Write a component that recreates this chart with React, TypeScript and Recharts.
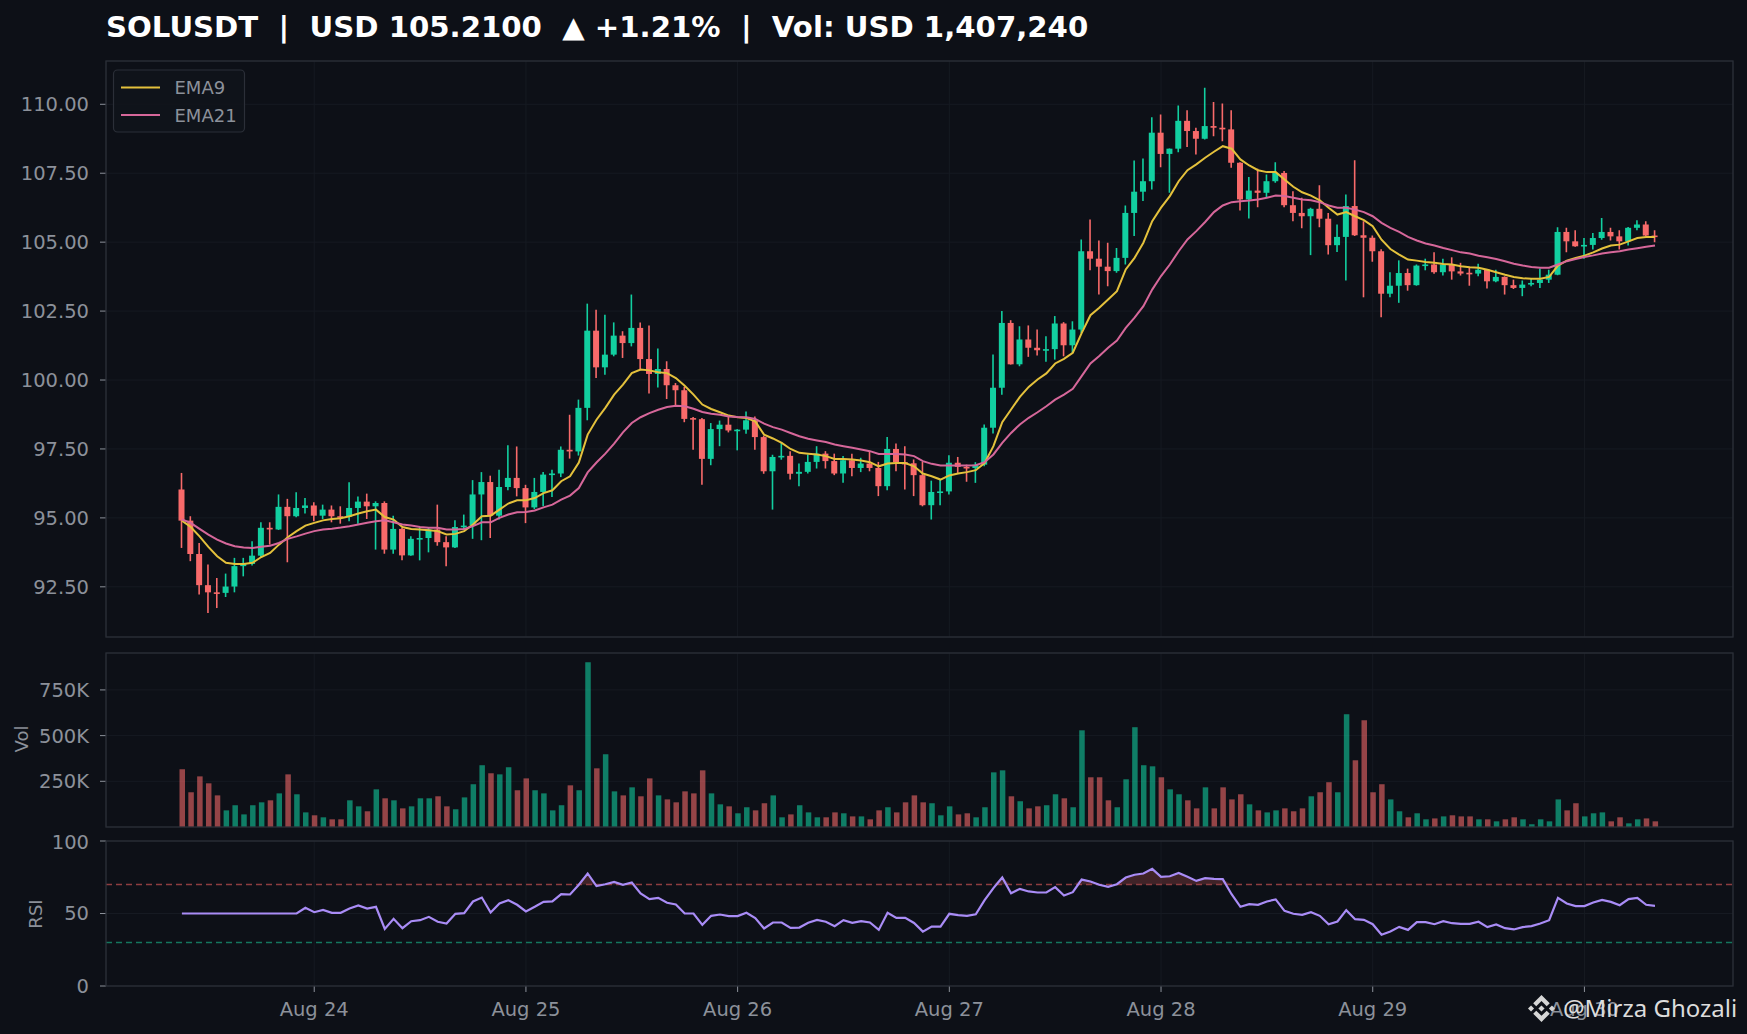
import React from 'react';
import {
  ComposedChart,
  Bar,
  Line,
  Area,
  XAxis,
  YAxis,
  CartesianGrid,
  ReferenceLine,
  Cell,
} from 'recharts';

// hourly candles, Aug 23 09:00 -> Aug 30 08:00
const opens = [
  96.03, 94.90, 93.69, 92.56, 92.30, 92.28, 92.51, 93.25, 93.33, 93.63, 94.64, 94.58,
  95.40, 95.06, 95.36, 95.45, 95.08, 95.30, 95.06, 95.04, 95.36, 95.59, 95.42, 95.54,
  93.85, 94.60, 93.64, 94.24, 94.27, 94.58, 94.12, 93.93, 94.67, 94.72, 95.85, 96.30,
  95.08, 96.12, 96.45, 96.08, 95.38, 95.94, 96.57, 96.61, 97.47, 97.41, 98.99, 101.79,
  100.46, 100.92, 101.61, 101.34, 101.89, 100.76, 100.22, 100.40, 99.81, 99.63, 98.62, 98.58,
  97.14, 98.22, 98.38, 98.17, 98.20, 98.54, 97.93, 96.69, 97.21, 97.25, 96.60, 96.67,
  97.03, 97.33, 97.06, 96.61, 97.09, 96.81, 96.97, 96.81, 96.15, 97.50, 97.02, 96.98,
  96.55, 95.46, 95.94, 95.96, 97.00, 96.85, 96.81, 96.93, 98.27, 99.72, 102.07, 100.57,
  101.47, 101.17, 101.08, 101.12, 102.05, 101.26, 101.83, 104.67, 104.40, 104.11, 103.95, 104.43,
  106.06, 106.83, 107.21, 108.97, 108.20, 108.39, 109.40, 109.03, 108.75, 109.21, 109.15, 109.09,
  107.88, 106.55, 106.87, 106.79, 107.21, 107.51, 106.34, 106.06, 105.94, 106.21, 105.85, 104.89,
  105.19, 106.31, 105.25, 105.16, 104.67, 103.13, 103.42, 103.88, 103.44, 104.15, 104.19, 103.91,
  104.19, 103.94, 103.89, 103.86, 104.00, 103.58, 103.74, 103.44, 103.34, 103.46, 103.52, 103.64,
  103.82, 105.37, 105.03, 104.85, 104.90, 105.15, 105.37, 105.21, 105.03, 105.52, 105.64, 105.24,
];

const highs = [
  96.63, 95.06, 94.09, 93.31, 92.82, 92.98, 93.55, 93.55, 94.15, 94.84, 94.84, 95.85,
  95.69, 95.93, 95.72, 95.57, 95.48, 95.45, 95.42, 96.29, 95.78, 95.88, 95.60, 95.60,
  95.08, 94.64, 94.33, 94.67, 94.67, 95.48, 94.33, 94.91, 95.12, 96.37, 96.66, 96.53,
  96.75, 97.63, 97.59, 96.20, 96.45, 96.66, 96.75, 97.59, 98.74, 99.29, 102.77, 102.55,
  102.37, 102.09, 101.77, 103.10, 102.09, 101.98, 101.14, 100.68, 99.89, 99.75, 98.66, 98.62,
  98.44, 98.53, 98.68, 98.22, 98.86, 98.68, 97.98, 97.29, 97.75, 97.42, 96.97, 97.30,
  97.60, 97.42, 97.33, 97.24, 97.33, 97.18, 97.42, 97.03, 97.93, 97.70, 97.60, 97.12,
  97.03, 96.35, 96.39, 97.27, 97.21, 96.93, 97.02, 98.39, 100.93, 102.50, 102.17, 101.95,
  101.98, 101.83, 101.59, 102.32, 102.10, 102.13, 105.10, 105.82, 105.06, 104.98, 104.79, 106.33,
  107.96, 108.03, 109.53, 109.63, 108.40, 109.96, 109.78, 109.15, 110.60, 110.08, 110.03, 109.78,
  107.90, 107.36, 107.66, 107.45, 107.90, 107.58, 106.85, 106.61, 106.25, 107.06, 106.06, 105.64,
  106.73, 107.97, 105.76, 105.24, 104.74, 103.91, 104.34, 104.04, 104.19, 104.40, 104.63, 104.40,
  104.45, 104.25, 104.07, 104.22, 104.03, 104.00, 103.76, 103.64, 103.61, 103.67, 104.04, 104.00,
  105.54, 105.52, 105.43, 105.15, 105.33, 105.88, 105.52, 105.43, 105.55, 105.79, 105.76, 105.43,
];

const lows = [
  93.91, 93.43, 92.22, 91.55, 91.73, 92.13, 92.30, 92.88, 93.27, 93.58, 94.03, 94.56,
  93.39, 95.02, 95.16, 94.88, 94.96, 94.84, 94.79, 94.88, 94.79, 94.96, 93.85, 93.70,
  93.70, 93.46, 93.63, 93.46, 93.75, 93.99, 93.25, 93.91, 94.58, 94.24, 94.19, 94.27,
  94.94, 96.00, 95.78, 94.81, 95.32, 95.42, 95.76, 96.48, 97.15, 97.26, 98.54, 100.07,
  100.19, 100.86, 100.80, 101.22, 100.35, 99.51, 99.73, 99.31, 99.05, 98.47, 97.47, 96.20,
  96.91, 97.60, 98.10, 97.45, 98.05, 97.47, 96.60, 95.30, 97.11, 96.39, 96.15, 96.61,
  96.79, 96.79, 96.55, 96.27, 96.51, 96.66, 96.69, 95.79, 96.00, 96.69, 96.03, 95.79,
  95.42, 94.94, 95.46, 95.85, 96.63, 96.31, 96.27, 96.87, 98.06, 99.47, 100.56, 100.50,
  100.84, 100.89, 100.66, 100.74, 100.86, 100.99, 101.70, 103.98, 103.10, 103.40, 103.89, 104.19,
  105.22, 106.49, 106.91, 107.72, 106.79, 108.26, 108.45, 108.18, 108.72, 108.84, 108.66, 107.70,
  106.15, 105.86, 106.27, 106.64, 107.15, 106.27, 105.76, 105.50, 104.53, 105.54, 104.55, 104.64,
  103.61, 105.22, 103.00, 104.29, 102.28, 103.00, 102.80, 103.24, 103.42, 103.98, 103.85, 103.79,
  103.64, 103.79, 103.42, 103.76, 103.32, 103.55, 103.10, 103.30, 103.04, 103.40, 103.34, 103.52,
  103.80, 104.63, 104.83, 104.40, 104.73, 105.09, 105.06, 104.73, 104.88, 105.43, 105.21, 105.00,
];

const closes = [
  94.90, 93.69, 92.56, 92.30, 92.28, 92.51, 93.25, 93.33, 93.63, 94.64, 94.58, 95.40,
  95.06, 95.36, 95.45, 95.08, 95.30, 95.06, 95.04, 95.36, 95.59, 95.42, 95.54, 93.85,
  94.60, 93.64, 94.24, 94.27, 94.58, 94.12, 93.93, 94.67, 94.72, 95.85, 96.30, 95.08,
  96.12, 96.45, 96.08, 95.38, 95.94, 96.57, 96.61, 97.47, 97.41, 98.99, 101.79, 100.46,
  100.92, 101.61, 101.34, 101.89, 100.76, 100.22, 100.40, 99.81, 99.63, 98.59, 98.58, 97.14,
  98.22, 98.38, 98.17, 98.20, 98.54, 97.93, 96.69, 97.21, 97.25, 96.60, 96.67, 97.03,
  97.33, 97.06, 96.61, 97.09, 96.81, 96.97, 96.81, 96.15, 97.50, 97.02, 96.94, 96.55,
  95.46, 95.94, 95.96, 97.00, 96.85, 96.81, 96.93, 98.27, 99.72, 102.07, 100.57, 101.47,
  101.17, 101.08, 101.12, 102.05, 101.26, 101.83, 104.67, 104.40, 104.11, 103.95, 104.43, 106.06,
  106.83, 107.21, 108.97, 108.20, 108.39, 109.40, 109.03, 108.75, 109.21, 109.15, 109.09, 107.88,
  106.55, 106.87, 106.79, 107.21, 107.51, 106.34, 106.06, 105.94, 106.21, 105.85, 104.89, 105.19,
  106.31, 105.25, 105.16, 104.67, 103.13, 103.42, 103.88, 103.44, 104.15, 104.19, 103.91, 104.19,
  103.94, 103.86, 103.86, 104.00, 103.58, 103.74, 103.44, 103.34, 103.46, 103.52, 103.64, 103.82,
  105.37, 105.03, 104.85, 104.90, 105.15, 105.37, 105.21, 105.03, 105.52, 105.64, 105.24, 105.21,
];

const ema9 = [
  94.90, 94.67, 94.33, 93.95, 93.61, 93.37, 93.33, 93.33, 93.37, 93.58, 93.73, 94.03,
  94.30, 94.52, 94.72, 94.82, 94.91, 94.96, 94.99, 95.06, 95.16, 95.24, 95.30, 95.03,
  94.94, 94.67, 94.60, 94.58, 94.55, 94.52, 94.40, 94.42, 94.52, 94.76, 95.06, 95.08,
  95.30, 95.52, 95.64, 95.64, 95.72, 95.90, 96.00, 96.33, 96.51, 97.01, 98.02, 98.56,
  98.99, 99.47, 99.83, 100.25, 100.38, 100.35, 100.28, 100.25, 100.07, 99.79, 99.47, 99.11,
  98.95, 98.83, 98.71, 98.65, 98.62, 98.50, 98.02, 97.88, 97.72, 97.50, 97.36, 97.33,
  97.30, 97.24, 97.14, 97.14, 97.12, 97.08, 97.02, 96.87, 96.97, 96.99, 96.99, 96.87,
  96.61, 96.51, 96.39, 96.54, 96.61, 96.66, 96.73, 96.99, 97.60, 98.47, 98.93, 99.39,
  99.75, 100.02, 100.24, 100.60, 100.77, 100.99, 101.70, 102.35, 102.62, 102.92, 103.22, 104.01,
  104.43, 104.98, 105.76, 106.25, 106.67, 107.21, 107.61, 107.82, 108.06, 108.28, 108.48, 108.39,
  108.00, 107.78, 107.61, 107.54, 107.54, 107.27, 107.01, 106.81, 106.69, 106.52, 106.25, 106.00,
  106.09, 105.94, 105.80, 105.58, 105.09, 104.75, 104.55, 104.37, 104.33, 104.28, 104.25, 104.21,
  104.19, 104.13, 104.09, 104.07, 104.00, 103.91, 103.82, 103.74, 103.69, 103.67, 103.67, 103.74,
  104.15, 104.33, 104.43, 104.51, 104.63, 104.77, 104.88, 104.91, 105.03, 105.15, 105.19, 105.19,
];

const ema21 = [
  94.94, 94.82, 94.60, 94.39, 94.21, 94.07, 93.97, 93.93, 93.91, 93.95, 93.99, 94.09,
  94.24, 94.33, 94.43, 94.52, 94.58, 94.61, 94.65, 94.70, 94.76, 94.82, 94.88, 94.91,
  94.84, 94.76, 94.72, 94.67, 94.64, 94.64, 94.58, 94.58, 94.60, 94.70, 94.84, 94.84,
  95.00, 95.12, 95.20, 95.21, 95.27, 95.38, 95.48, 95.66, 95.81, 96.08, 96.65, 97.01,
  97.33, 97.69, 98.10, 98.44, 98.65, 98.80, 98.92, 99.02, 99.07, 99.05, 98.96, 98.84,
  98.78, 98.74, 98.68, 98.66, 98.65, 98.59, 98.42, 98.29, 98.20, 98.08, 97.96, 97.87,
  97.81, 97.75, 97.66, 97.60, 97.54, 97.48, 97.42, 97.32, 97.32, 97.32, 97.30, 97.24,
  97.06, 96.96, 96.90, 96.90, 96.90, 96.90, 96.91, 97.02, 97.30, 97.72, 98.08, 98.39,
  98.63, 98.83, 99.05, 99.29, 99.47, 99.68, 100.14, 100.60, 100.87, 101.17, 101.43, 101.89,
  102.26, 102.68, 103.28, 103.77, 104.19, 104.67, 105.10, 105.40, 105.73, 106.09, 106.33, 106.45,
  106.48, 106.51, 106.55, 106.61, 106.69, 106.67, 106.61, 106.55, 106.52, 106.45, 106.33, 106.25,
  106.25, 106.18, 106.09, 105.94, 105.70, 105.52, 105.37, 105.19, 105.06, 104.95, 104.88, 104.79,
  104.71, 104.63, 104.59, 104.51, 104.45, 104.39, 104.31, 104.22, 104.15, 104.10, 104.07, 104.07,
  104.19, 104.31, 104.39, 104.46, 104.52, 104.59, 104.63, 104.67, 104.73, 104.78, 104.83, 104.88,
];

// volume in thousands of SOL
const volumesK = [
  316, 190, 277, 239, 173, 91, 119, 69, 119, 135, 146, 184,
  288, 179, 80, 64, 53, 42, 42, 146, 113, 86, 206, 157,
  146, 102, 113, 157, 157, 168, 113, 97, 162, 234, 338, 294,
  288, 327, 201, 266, 201, 184, 91, 119, 228, 201, 901, 321,
  398, 195, 173, 217, 168, 266, 173, 151, 135, 195, 184, 310,
  184, 124, 113, 75, 108, 91, 130, 173, 53, 69, 119, 80,
  53, 53, 80, 75, 58, 58, 42, 91, 108, 80, 135, 173,
  135, 130, 64, 113, 69, 75, 53, 108, 299, 310, 168, 141,
  102, 113, 119, 179, 157, 108, 529, 272, 272, 146, 108, 261,
  546, 338, 332, 272, 206, 179, 146, 102, 217, 102, 217, 151,
  179, 124, 91, 80, 91, 102, 86, 102, 168, 190, 245, 190,
  617, 365, 584, 190, 234, 151, 86, 53, 75, 42, 47, 58,
  64, 58, 58, 42, 42, 31, 42, 53, 42, 15, 42, 31,
  151, 91, 130, 58, 75, 80, 31, 53, 20, 42, 47, 31,
];

const rsi = [
  50, 50, 50, 50, 50, 50, 50, 50, 50, 50, 50, 50,
  50, 50, 53.9, 50.9, 52.5, 50.5, 50.5, 53.4, 55.5, 53.4, 54.6, 39.4,
  46.3, 39.9, 44.7, 45.4, 47.7, 44.3, 43.1, 49.8, 50.2, 58.3, 61.0, 50.7,
  56.9, 59.2, 56.0, 51.4, 54.6, 58.0, 58.3, 63.3, 63.1, 69.8, 77.6, 68.9,
  70.2, 71.8, 69.8, 71.4, 63.8, 59.9, 60.8, 57.4, 56.2, 50.0, 50.0, 42.2,
  48.4, 49.3, 48.2, 48.2, 50.5, 46.8, 39.7, 43.8, 43.8, 40.1, 40.3, 43.6,
  45.6, 44.3, 41.3, 45.4, 43.6, 44.7, 43.8, 38.7, 50.5, 47.0, 47.0, 43.5,
  37.5, 41.0, 41.0, 49.8, 48.9, 48.4, 49.5, 59.2, 67.5, 74.8, 64.0, 67.0,
  65.2, 64.5, 64.5, 68.2, 62.4, 64.7, 73.4, 72.1, 69.8, 68.4, 70.2, 74.8,
  76.7, 77.6, 80.8, 75.3, 75.7, 78.0, 75.3, 72.5, 74.4, 73.9, 73.7, 63.3,
  54.6, 56.4, 56.0, 58.3, 59.7, 51.8, 49.8, 49.1, 50.9, 48.4, 42.6, 44.5,
  52.3, 46.1, 45.6, 42.6, 35.3, 37.6, 40.8, 38.7, 44.0, 44.0, 42.6, 44.7,
  43.3, 42.9, 42.9, 44.3, 40.6, 42.4, 39.9, 39.0, 40.6, 41.3, 43.1, 45.4,
  60.8, 56.9, 55.1, 55.1, 57.6, 59.4, 58.0, 55.7, 59.9, 60.8, 56.0, 55.3,
];

// candle index of each midnight and its label
const dayTicks = [15, 39, 63, 87, 111, 135, 159];
const dayLabels = ['Aug 24', 'Aug 25', 'Aug 26', 'Aug 27', 'Aug 28', 'Aug 29', 'Aug 30'];

const priceTicks = [92.5, 95, 97.5, 100, 102.5, 105, 107.5, 110];
const volTicks = [0, 250, 500, 750];
const rsiTicks = [0, 50, 100];

const data = opens.map((o, i) => ({
  i,
  open: o,
  high: highs[i],
  low: lows[i],
  close: closes[i],
  ema9: ema9[i],
  ema21: ema21[i],
  vol: volumesK[i],
  rsi: rsi[i],
}));

const BG = '#0d1017';
const UP = '#12cfa0';
const DOWN = '#f86a6a';
const EMA9_C = '#e4c13c';
const EMA21_C = '#d6679a';
const RSI_C = '#a98cf6';
const SPINE = '#2b2f38';
const GRID = '#161a22';
const TXT = '#8c919a';
const FONT = '"DejaVu Sans", sans-serif';

const W = 1747;
const H = 1034;
const LEFT = 106;
const RIGHT_M = 14;
const PAD = { left: 71.5, right: 73.6 };

const tickStyle = { fill: TXT, fontSize: 19.5, fontFamily: FONT };

const Candle = (props: any) => {
  const { x, y, width, height, payload } = props;
  if (x == null || y == null) return null;
  const { open, close, high, low } = payload;
  const color = close >= open ? UP : DOWN;
  const top = Math.min(y, y + height);
  const h = Math.abs(height);
  const k = high > low ? h / (high - low) : 0;
  const bodyTop = top + (high - Math.max(open, close)) * k;
  const bodyH = Math.max(1.6, Math.abs(open - close) * k);
  const cx = x + width / 2;
  return (
    <g>
      <line x1={cx} x2={cx} y1={top} y2={top + h} stroke={color} strokeWidth={1.6} />
      <rect x={x} y={bodyTop} width={width} height={bodyH} fill={color} />
    </g>
  );
};

const xAxisCommon = {
  dataKey: 'i',
  type: 'category' as const,
  scale: 'band' as const,
  padding: PAD,
  ticks: dayTicks,
  interval: 0 as const,
};

const BinanceLogo = ({ x, y, s }: { x: number; y: number; s: number }) => (
  <g transform={`translate(${x},${y}) scale(${s})`} fill="#d6d6d6">
    <path d="M38.73 53.2 63.3 28.63 87.89 53.22 102.19 38.92 63.3 0 24.42 38.9z" />
    <path d="M0 63.31 14.3 49 28.6 63.31 14.3 77.61z" />
    <path d="M38.73 73.42 63.3 97.99 87.89 73.4 102.19 87.69 63.3 126.61 24.42 87.71z" />
    <path d="M98 63.31 112.3 49 126.61 63.31 112.3 77.61z" />
    <path d="M77.82 63.3 63.3 48.78 48.79 63.28 63.3 77.82z" />
  </g>
);

export default function App() {
  return (
    <div style={{ position: 'absolute', left: 0, top: 0, width: W, height: H, background: BG, overflow: 'hidden' }}>
      {/* price panel */}
      <div style={{ position: 'absolute', left: 0, top: 0 }}>
        <ComposedChart width={W} height={650} data={data} margin={{ top: 61, right: RIGHT_M, bottom: 13, left: 0 }}>
          <CartesianGrid stroke={GRID} />
          <XAxis {...xAxisCommon} hide height={0} />
          <YAxis
            width={LEFT}
            domain={[90.68, 111.57]}
            ticks={priceTicks}
            tickFormatter={(v: number) => v.toFixed(2)}
            tick={tickStyle}
            axisLine={false}
            tickLine={{ stroke: TXT }}
            tickSize={6}
            tickMargin={11}
            allowDataOverflow
          />
          <Bar
            dataKey={(d: any) => [d.low, d.high]}
            barSize={6}
            shape={Candle}
            isAnimationActive={false}
          />
          <Line dataKey="ema9" stroke={EMA9_C} strokeWidth={2} dot={false} activeDot={false} isAnimationActive={false} />
          <Line dataKey="ema21" stroke={EMA21_C} strokeWidth={2} dot={false} activeDot={false} isAnimationActive={false} />
        </ComposedChart>
      </div>

      {/* volume panel */}
      <div style={{ position: 'absolute', left: 0, top: 643 }}>
        <ComposedChart width={W} height={194} data={data} margin={{ top: 10, right: RIGHT_M, bottom: 10, left: 0 }}>
          <CartesianGrid stroke={GRID} />
          <XAxis {...xAxisCommon} hide height={0} />
          <YAxis
            width={LEFT}
            domain={[0, 952]}
            ticks={volTicks}
            tickFormatter={(v: number) => (v === 0 ? '0' : `${v}K`)}
            tick={tickStyle}
            axisLine={false}
            tickLine={{ stroke: TXT }}
            tickSize={6}
            tickMargin={11}
          />
          <Bar dataKey="vol" barSize={5.5} isAnimationActive={false}>
            {data.map((d) => (
              <Cell key={d.i} fill={d.close >= d.open ? UP : DOWN} fillOpacity={0.58} />
            ))}
          </Bar>
        </ComposedChart>
      </div>

      {/* RSI panel */}
      <div style={{ position: 'absolute', left: 0, top: 831 }}>
        <ComposedChart width={W} height={203} data={data} margin={{ top: 10, right: RIGHT_M, bottom: 0, left: 0 }}>
          <CartesianGrid stroke={GRID} />
          <XAxis
            {...xAxisCommon}
            height={48}
            tickFormatter={(v: number) => dayLabels[dayTicks.indexOf(v)] ?? ''}
            tick={tickStyle}
            axisLine={false}
            tickLine={{ stroke: TXT }}
            tickSize={6}
            tickMargin={10}
          />
          <YAxis
            width={LEFT}
            domain={[0, 100]}
            ticks={rsiTicks}
            tick={tickStyle}
            axisLine={false}
            tickLine={{ stroke: TXT }}
            tickSize={6}
            tickMargin={11}
          />
          <ReferenceLine y={70} stroke="#8e3d40" strokeDasharray="6 4" strokeWidth={1.4} />
          <ReferenceLine y={30} stroke="#14765d" strokeDasharray="6 4" strokeWidth={1.4} />
          <Area
            dataKey={(d: any) => [70, Math.max(70, d.rsi)]}
            stroke="none"
            fill="#f86a6a"
            fillOpacity={0.22}
            dot={false}
            activeDot={false}
            isAnimationActive={false}
          />
          <Line dataKey="rsi" stroke={RSI_C} strokeWidth={2.2} dot={false} activeDot={false} isAnimationActive={false} />
        </ComposedChart>
      </div>

      {/* overlay: spines, title, legend, labels, watermark */}
      <svg width={W} height={H} style={{ position: 'absolute', left: 0, top: 0, pointerEvents: 'none' }}>
        <rect x={LEFT} y={61} width={W - RIGHT_M - LEFT} height={576} fill="none" stroke={SPINE} strokeWidth={1.3} />
        <rect x={LEFT} y={653} width={W - RIGHT_M - LEFT} height={174} fill="none" stroke={SPINE} strokeWidth={1.3} />
        <rect x={LEFT} y={841} width={W - RIGHT_M - LEFT} height={145} fill="none" stroke={SPINE} strokeWidth={1.3} />

        <text x={106} y={37} fill="#ffffff" fontFamily={FONT} fontWeight="bold" fontSize={29.2} style={{ whiteSpace: 'pre' }}>
          {'SOLUSDT  |  USD 105.2100  \u25B2 +1.21%  |  Vol: USD 1,407,240'}
        </text>

        <rect x={113.5} y={70} width={131} height={62} rx={4} fill="#10141b" fillOpacity={0.85} stroke={SPINE} strokeWidth={1.2} />
        <line x1={121} x2={160} y1={87.5} y2={87.5} stroke={EMA9_C} strokeWidth={2} />
        <text x={174.5} y={94} fill={TXT} fontFamily={FONT} fontSize={18}>EMA9</text>
        <line x1={121} x2={160} y1={115} y2={115} stroke={EMA21_C} strokeWidth={2} />
        <text x={174.5} y={121.5} fill={TXT} fontFamily={FONT} fontSize={18}>EMA21</text>

        <text transform="translate(28,739) rotate(-90)" textAnchor="middle" fill={TXT} fontFamily={FONT} fontSize={18}>Vol</text>
        <text transform="translate(42,914) rotate(-90)" textAnchor="middle" fill={TXT} fontFamily={FONT} fontSize={18}>RSI</text>

        <BinanceLogo x={1528} y={995} s={0.213} />
        <text x={1563} y={1017} fill="#dcdcdc" fontFamily='"Noto Sans", "Open Sans", sans-serif' fontSize={24}>
          @Mirza Ghozali
        </text>
      </svg>
    </div>
  );
}
